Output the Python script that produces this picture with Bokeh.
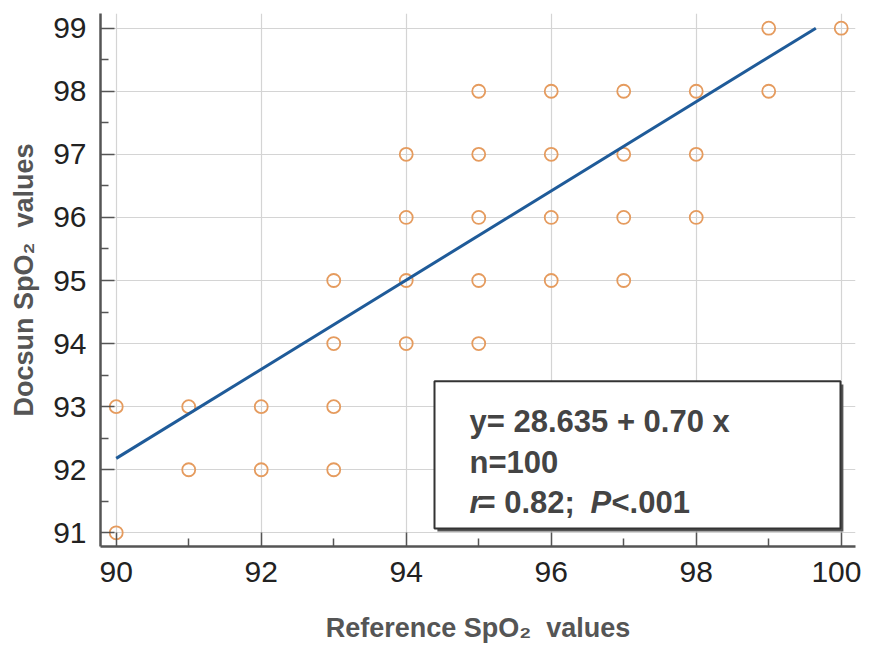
from bokeh.plotting import figure
from bokeh.models import Range1d, FixedTicker, BoxAnnotation, Label
from bokeh.embed import file_html
from bokeh.resources import INLINE

# Data
ref_spo2 = [90, 90, 91, 91, 92, 92, 93, 93, 93, 93,
            94, 94, 94, 94, 95, 95, 95, 95, 95,
            96, 96, 96, 96, 97, 97, 97, 97,
            98, 98, 98, 99, 99, 100]
docsun_spo2 = [93, 91, 93, 92, 93, 92, 95, 94, 93, 92,
               97, 96, 95, 94, 98, 97, 96, 95, 94,
               98, 97, 96, 95, 98, 97, 96, 95,
               98, 97, 96, 99, 98, 99]
fit_x = [90.0, 99.65]
fit_y = [92.18, 99.0]
x_ticks = [90, 92, 94, 96, 98, 100]
y_ticks = [91, 92, 93, 94, 95, 96, 97, 98, 99]

p = figure(width=861, height=648, output_backend="svg", toolbar_location=None,
           x_range=Range1d(89.783, 100.197), y_range=Range1d(90.783, 99.233),
           min_border_left=100, min_border_right=6, min_border_top=13,
           min_border_bottom=102)
p.outline_line_color = None
p.background_fill_color = "white"

FONT = "Liberation Sans"
for ax, ticks in ((p.xaxis[0], x_ticks), (p.yaxis[0], y_ticks)):
    ax.ticker = FixedTicker(ticks=ticks,
                            minor_ticks=[t + 0.5 * (ticks[1] - ticks[0]) for t in ticks[:-1]])
    ax.axis_line_color = "#555555"
    ax.axis_line_width = 2.5
    ax.major_tick_in = 14
    ax.major_tick_out = 0
    ax.minor_tick_in = 8
    ax.minor_tick_out = 0
    ax.major_tick_line_color = "#555555"
    ax.minor_tick_line_color = "#555555"
    ax.major_tick_line_width = 1.5
    ax.minor_tick_line_width = 1.5
    ax.major_label_text_font = FONT
    ax.major_label_text_font_size = "30px"
    ax.major_label_text_color = "#222222"
    ax.axis_label_text_font = FONT
    ax.axis_label_text_font_size = "27px"
    ax.axis_label_text_font_style = "bold"
    ax.axis_label_text_color = "#555555"

p.xaxis.axis_label = "Reference SpO\u2082\u00a0 values"
p.yaxis.axis_label = "Docsun SpO\u2082\u00a0 values"
p.xaxis.major_label_standoff = 15
p.xaxis.axis_label_standoff = 28
p.yaxis.major_label_standoff = 14
p.yaxis.axis_label_standoff = 11

p.xgrid.grid_line_color = "#d4d4d4"
p.ygrid.grid_line_color = "#d4d4d4"
p.xgrid.grid_line_width = 1.2
p.ygrid.grid_line_width = 1.2

p.scatter(ref_spo2, docsun_spo2, marker="circle", size=13, fill_color=None,
          line_color="#E59B5E", line_width=1.8)
p.line(fit_x, fit_y, line_color="#1F5B99", line_width=3)

# Annotation box with a light drop shadow
shadow = BoxAnnotation(left=94.43, right=100.03, top=93.35, bottom=91.02,
                       fill_color="#555555", fill_alpha=1.0, line_color=None,
                       level="annotation")
box = BoxAnnotation(left=94.39, right=99.99, top=93.404, bottom=91.069,
                    fill_color="white", fill_alpha=1.0, line_color="#333333",
                    line_alpha=1.0, line_width=2, level="annotation")
p.add_layout(shadow)
p.add_layout(box)

txt_kw = dict(text_font=FONT, text_font_size="31px", text_color="#444444",
              text_baseline="alphabetic", level="annotation")
bx = 94.873
p.add_layout(Label(x=bx, y=92.77, text="y= 28.635 + 0.70 x", text_font_style="bold", **txt_kw))
p.add_layout(Label(x=bx, y=92.11, text="n=100", text_font_style="bold", **txt_kw))
p.add_layout(Label(x=bx, y=91.48, text="r", text_font_style="bold italic", **txt_kw))
p.add_layout(Label(x=bx, y=91.48, x_offset=8, text="= 0.82;", text_font_style="bold", **txt_kw))
p.add_layout(Label(x=bx, y=91.48, x_offset=121, text="P", text_font_style="bold italic", **txt_kw))
p.add_layout(Label(x=bx, y=91.48, x_offset=142, text="<.001", text_font_style="bold", **txt_kw))

open("out.html", "w").write(file_html(p, INLINE))
